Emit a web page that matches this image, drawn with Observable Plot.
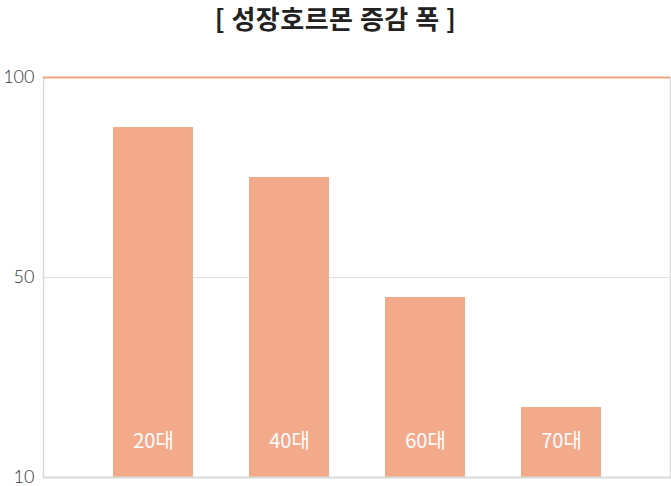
<!DOCTYPE html>
<html><head><meta charset="utf-8">
<script src="https://cdn.jsdelivr.net/npm/d3@7"></script>
<script src="https://cdn.jsdelivr.net/npm/@observablehq/plot@0.6"></script>
<style>
html,body{margin:0;padding:0;background:#fff;}
#title{height:45px;line-height:36px;text-align:center;font-family:"Noto Sans CJK KR",sans-serif;font-weight:700;font-size:26px;letter-spacing:0.5px;color:#222;}
</style>
</head><body>
<div id="title">[ 성장호르몬 증감 폭 ]</div>
<div id="chart"></div>
<script>
const categories = ["20대", "40대", "60대", "70대"];
const values = [87.5, 75, 45, 17.5];
const tickValues = [0, 50, 100];
const tickLabels = ["10", "50", "100"];

const data = categories.map((c, i) => ({cat: c, v: values[i]}));
const barColor = "#f3aa8b";

const chart = Plot.plot({
  width: 671,
  height: 441,
  marginTop: 32,
  marginBottom: 9,
  marginLeft: 43,
  marginRight: 1,
  style: {fontFamily: "'Noto Sans CJK KR', sans-serif", background: "#fff"},
  x: {domain: categories, paddingInner: 0.412, paddingOuter: 0.511, axis: null},
  y: {domain: [0, 100], axis: null},
  marks: [
    Plot.ruleY([50], {stroke: "#e0e0e0", strokeWidth: 1}),
    Plot.frame({anchor: "left", stroke: "#d9d9d9", strokeWidth: 1.5}),
    Plot.frame({anchor: "right", stroke: "#d9d9d9", strokeWidth: 1.5}),
    Plot.barY(data, {x: "cat", y: "v", fill: barColor}),
    Plot.ruleY([0], {stroke: "#d9d9d9", strokeWidth: 2}),
    Plot.ruleY([100], {stroke: "#f0a582", strokeWidth: 2}),
    Plot.axisY(tickValues, {
      tickSize: 0, tickPadding: 9, fontSize: 18, fill: "#333", fontWeight: 300,
      tickFormat: (d) => tickLabels[tickValues.indexOf(d)], label: null,
      fontFamily: "Lato, sans-serif"
    }),
    Plot.text(data, {x: "cat", y: 0, text: "cat", dy: -36, fill: "#fff", fontSize: 20, fontWeight: 400})
  ]
});
document.getElementById("chart").appendChild(chart);
</script>
</body></html>
